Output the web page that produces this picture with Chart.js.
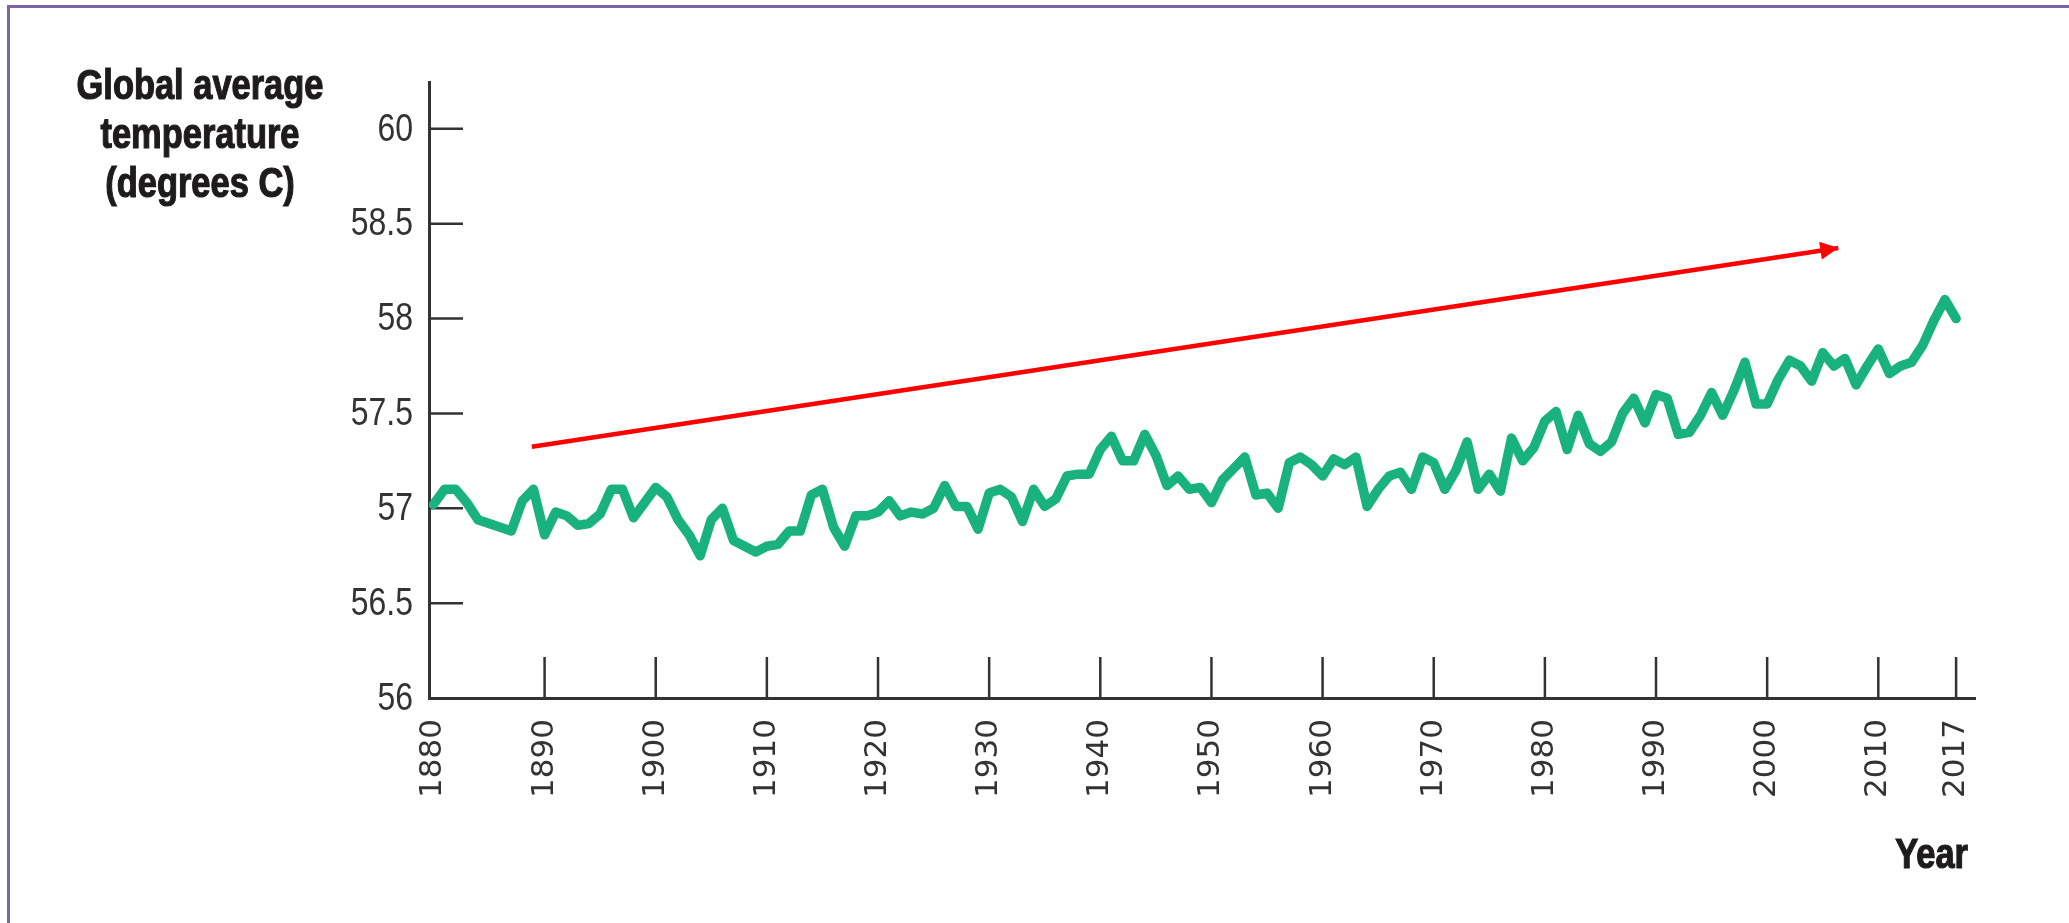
<!DOCTYPE html>
<html>
<head>
<meta charset="utf-8">
<script src="https://cdn.jsdelivr.net/npm/chart.js@4.4.1/dist/chart.umd.min.js"></script>
<style>
html,body{margin:0;padding:0;background:#fff;overflow:hidden;}
#wrap{position:absolute;left:0;top:0;width:2069px;height:923px;}
#frame{position:absolute;left:7px;top:5px;right:0;bottom:0;border-top:3px solid #7d63ab;border-left:3px solid #7d63ab;pointer-events:none;}
canvas{position:absolute;left:0;top:0;}
</style>
</head>
<body>
<div id="wrap">
<canvas id="c" width="2069" height="923"></canvas>
<div id="frame"></div>
</div>
<script>
// ---- data ----
const firstYear = 1880;
const temps = [
  57.02, 57.10, 57.10, 57.03, 56.94, 56.92, 56.90, 56.88, 57.04, 57.10,
  56.86, 56.98, 56.96, 56.91, 56.92, 56.97, 57.10, 57.10, 56.95, 57.03,
  57.11, 57.06, 56.94, 56.86, 56.75, 56.94, 57.00, 56.83, 56.80, 56.77,
  56.80, 56.81, 56.88, 56.88, 57.07, 57.10, 56.90, 56.80, 56.96, 56.96,
  56.98, 57.04, 56.96, 56.98, 56.97, 57.00, 57.12, 57.01, 57.01, 56.89,
  57.08, 57.10, 57.06, 56.93, 57.10, 57.01, 57.05, 57.17, 57.18, 57.18,
  57.31, 57.38, 57.25, 57.25, 57.39, 57.28, 57.12, 57.17, 57.10, 57.11,
  57.03, 57.15, 57.21, 57.27, 57.07, 57.08, 57.00, 57.24, 57.27, 57.23,
  57.17, 57.26, 57.23, 57.27, 57.01, 57.10, 57.17, 57.19, 57.10, 57.27,
  57.24, 57.10, 57.20, 57.35, 57.10, 57.18, 57.09, 57.37, 57.25, 57.32,
  57.46, 57.51, 57.31, 57.49, 57.34, 57.30, 57.35, 57.50, 57.58, 57.45,
  57.60, 57.58, 57.39, 57.40, 57.49, 57.61, 57.49, 57.62, 57.77, 57.55,
  57.55, 57.68, 57.78, 57.75, 57.67, 57.82, 57.75, 57.79, 57.65, 57.75,
  57.84, 57.71, 57.75, 57.77, 57.86, 57.99, 58.10, 58.00
];
const years = temps.map((_, i) => firstYear + i);
const xTickValues = [1880, 1890, 1900, 1910, 1920, 1930, 1940, 1950, 1960, 1970, 1980, 1990, 2000, 2010, 2017];
const yTickValues = [56, 56.5, 57, 57.5, 58, 58.5, 59];
const yTickLabels = ['56', '56.5', '57', '57.5', '58', '58.5', '60'];
const arrowYears = [1888.85, 2006.4];
const arrowTemps = [57.324, 58.372];
const titleLines = ['Global average', 'temperature', '(degrees C)'];
const xAxisTitle = 'Year';

// ---- styling ----
const SANS = "'Liberation Sans', Arial, sans-serif";
const NARROW_X = 0.82;   // horizontal compression to mimic a narrow face
const AXIS = '#333333';

function narrowText(ctx, text, x, y, align, heavy) {
  ctx.save();
  ctx.translate(x, y);
  ctx.scale(NARROW_X, 1);
  ctx.textAlign = align;
  ctx.fillText(text, 0, 0);
  if (heavy) { ctx.lineWidth = 1.2; ctx.strokeText(text, 0, 0); }
  ctx.restore();
}

const inwardTicks = {
  id: 'inwardTicks',
  beforeDatasetsDraw(chart) {
    const {ctx, chartArea, scales} = chart;
    ctx.save();
    ctx.strokeStyle = AXIS;
    ctx.lineWidth = 2.5;
    ctx.beginPath();
    scales.y.ticks.forEach(t => {
      const y = scales.y.getPixelForValue(t.value);
      if (chartArea.bottom - y < 5) return;
      ctx.moveTo(chartArea.left, y);
      ctx.lineTo(chartArea.left + 34, y);
    });
    scales.x.ticks.forEach(t => {
      const x = scales.x.getPixelForValue(t.value);
      if (x - chartArea.left < 10) return;
      ctx.moveTo(x, chartArea.bottom);
      ctx.lineTo(x, chartArea.bottom - 41);
    });
    ctx.stroke();
    ctx.restore();
  }
};

const arrowHead = {
  id: 'arrowHead',
  afterDatasetsDraw(chart) {
    const meta = chart.getDatasetMeta(1);
    if (!meta || meta.data.length < 2) return;
    const p0 = meta.data[meta.data.length - 2], p1 = meta.data[meta.data.length - 1];
    const ang = Math.atan2(p1.y - p0.y, p1.x - p0.x);
    const len = 18, half = 9;
    const {ctx} = chart;
    ctx.save();
    ctx.translate(p1.x, p1.y);
    ctx.rotate(ang);
    ctx.fillStyle = '#ff0000';
    ctx.beginPath();
    ctx.moveTo(0, 0);
    ctx.lineTo(-len, -half);
    ctx.lineTo(-len, half);
    ctx.closePath();
    ctx.fill();
    ctx.restore();
  }
};

const texts = {
  id: 'texts',
  afterDraw(chart) {
    const {ctx, chartArea, scales} = chart;
    ctx.save();
    // y tick labels (narrow face), placed through the y scale
    ctx.fillStyle = '#333333';
    ctx.font = "39px " + SANS;
    ctx.textBaseline = 'middle';
    scales.y.ticks.forEach((t, i) => {
      narrowText(ctx, yTickLabels[i], chartArea.left - 16, scales.y.getPixelForValue(t.value) + 1, 'right');
    });
    // titles
    ctx.fillStyle = '#1e1b1c';
    ctx.strokeStyle = '#1e1b1c';
    ctx.font = "bold 42px " + SANS;
    ctx.textBaseline = 'alphabetic';
    const cx = chartArea.left - 229;
    titleLines.forEach((t, i) => narrowText(ctx, t, cx, chartArea.top + 17 + i * 49, 'center', true));
    narrowText(ctx, xAxisTitle, chartArea.right - 7, chartArea.bottom + 170, 'right', true);
    ctx.restore();
  }
};

new Chart(document.getElementById('c'), {
  type: 'line',
  data: {
    datasets: [
      {
        data: years.map((y, i) => ({x: y, y: temps[i]})),
        borderColor: '#19b27e',
        borderWidth: 9.5,
        borderJoinStyle: 'round',
        borderCapStyle: 'round',
        pointRadius: 0,
        tension: 0,
        fill: false
      },
      {
        data: arrowYears.map((y, i) => ({x: y, y: arrowTemps[i]})),
        borderColor: '#ff0000',
        borderWidth: 4.5,
        borderCapStyle: 'butt',
        pointRadius: 0,
        tension: 0,
        fill: false
      }
    ]
  },
  options: {
    responsive: false,
    devicePixelRatio: 1,
    animation: false,
    layout: {padding: {top: 82, right: 94, left: 0, bottom: 0}},
    plugins: {legend: {display: false}, tooltip: {enabled: false}, title: {display: false}},
    scales: {
      x: {
        type: 'linear',
        min: 1879.6,
        max: 2018.7,
        afterBuildTicks: s => { s.ticks = xTickValues.map(v => ({value: v})); },
        afterFit: s => { s.height = 225; },
        grid: {display: false, drawTicks: false},
        border: {display: true, color: AXIS, width: 3},
        ticks: {
          autoSkip: false,
          minRotation: 90,
          maxRotation: 90,
          padding: 21,
          color: AXIS,
          font: {family: "'DejaVu Sans', sans-serif", size: 31},
          callback: v => String(v)
        }
      },
      y: {
        type: 'linear',
        min: 56,
        max: 59.247,
        afterBuildTicks: s => { s.ticks = yTickValues.map(v => ({value: v})); },
        afterFit: s => { s.width = 429; },
        grid: {display: false, drawTicks: false},
        border: {display: true, color: AXIS, width: 3},
        ticks: {display: false}
      }
    }
  },
  plugins: [inwardTicks, arrowHead, texts]
});
</script>
</body>
</html>
